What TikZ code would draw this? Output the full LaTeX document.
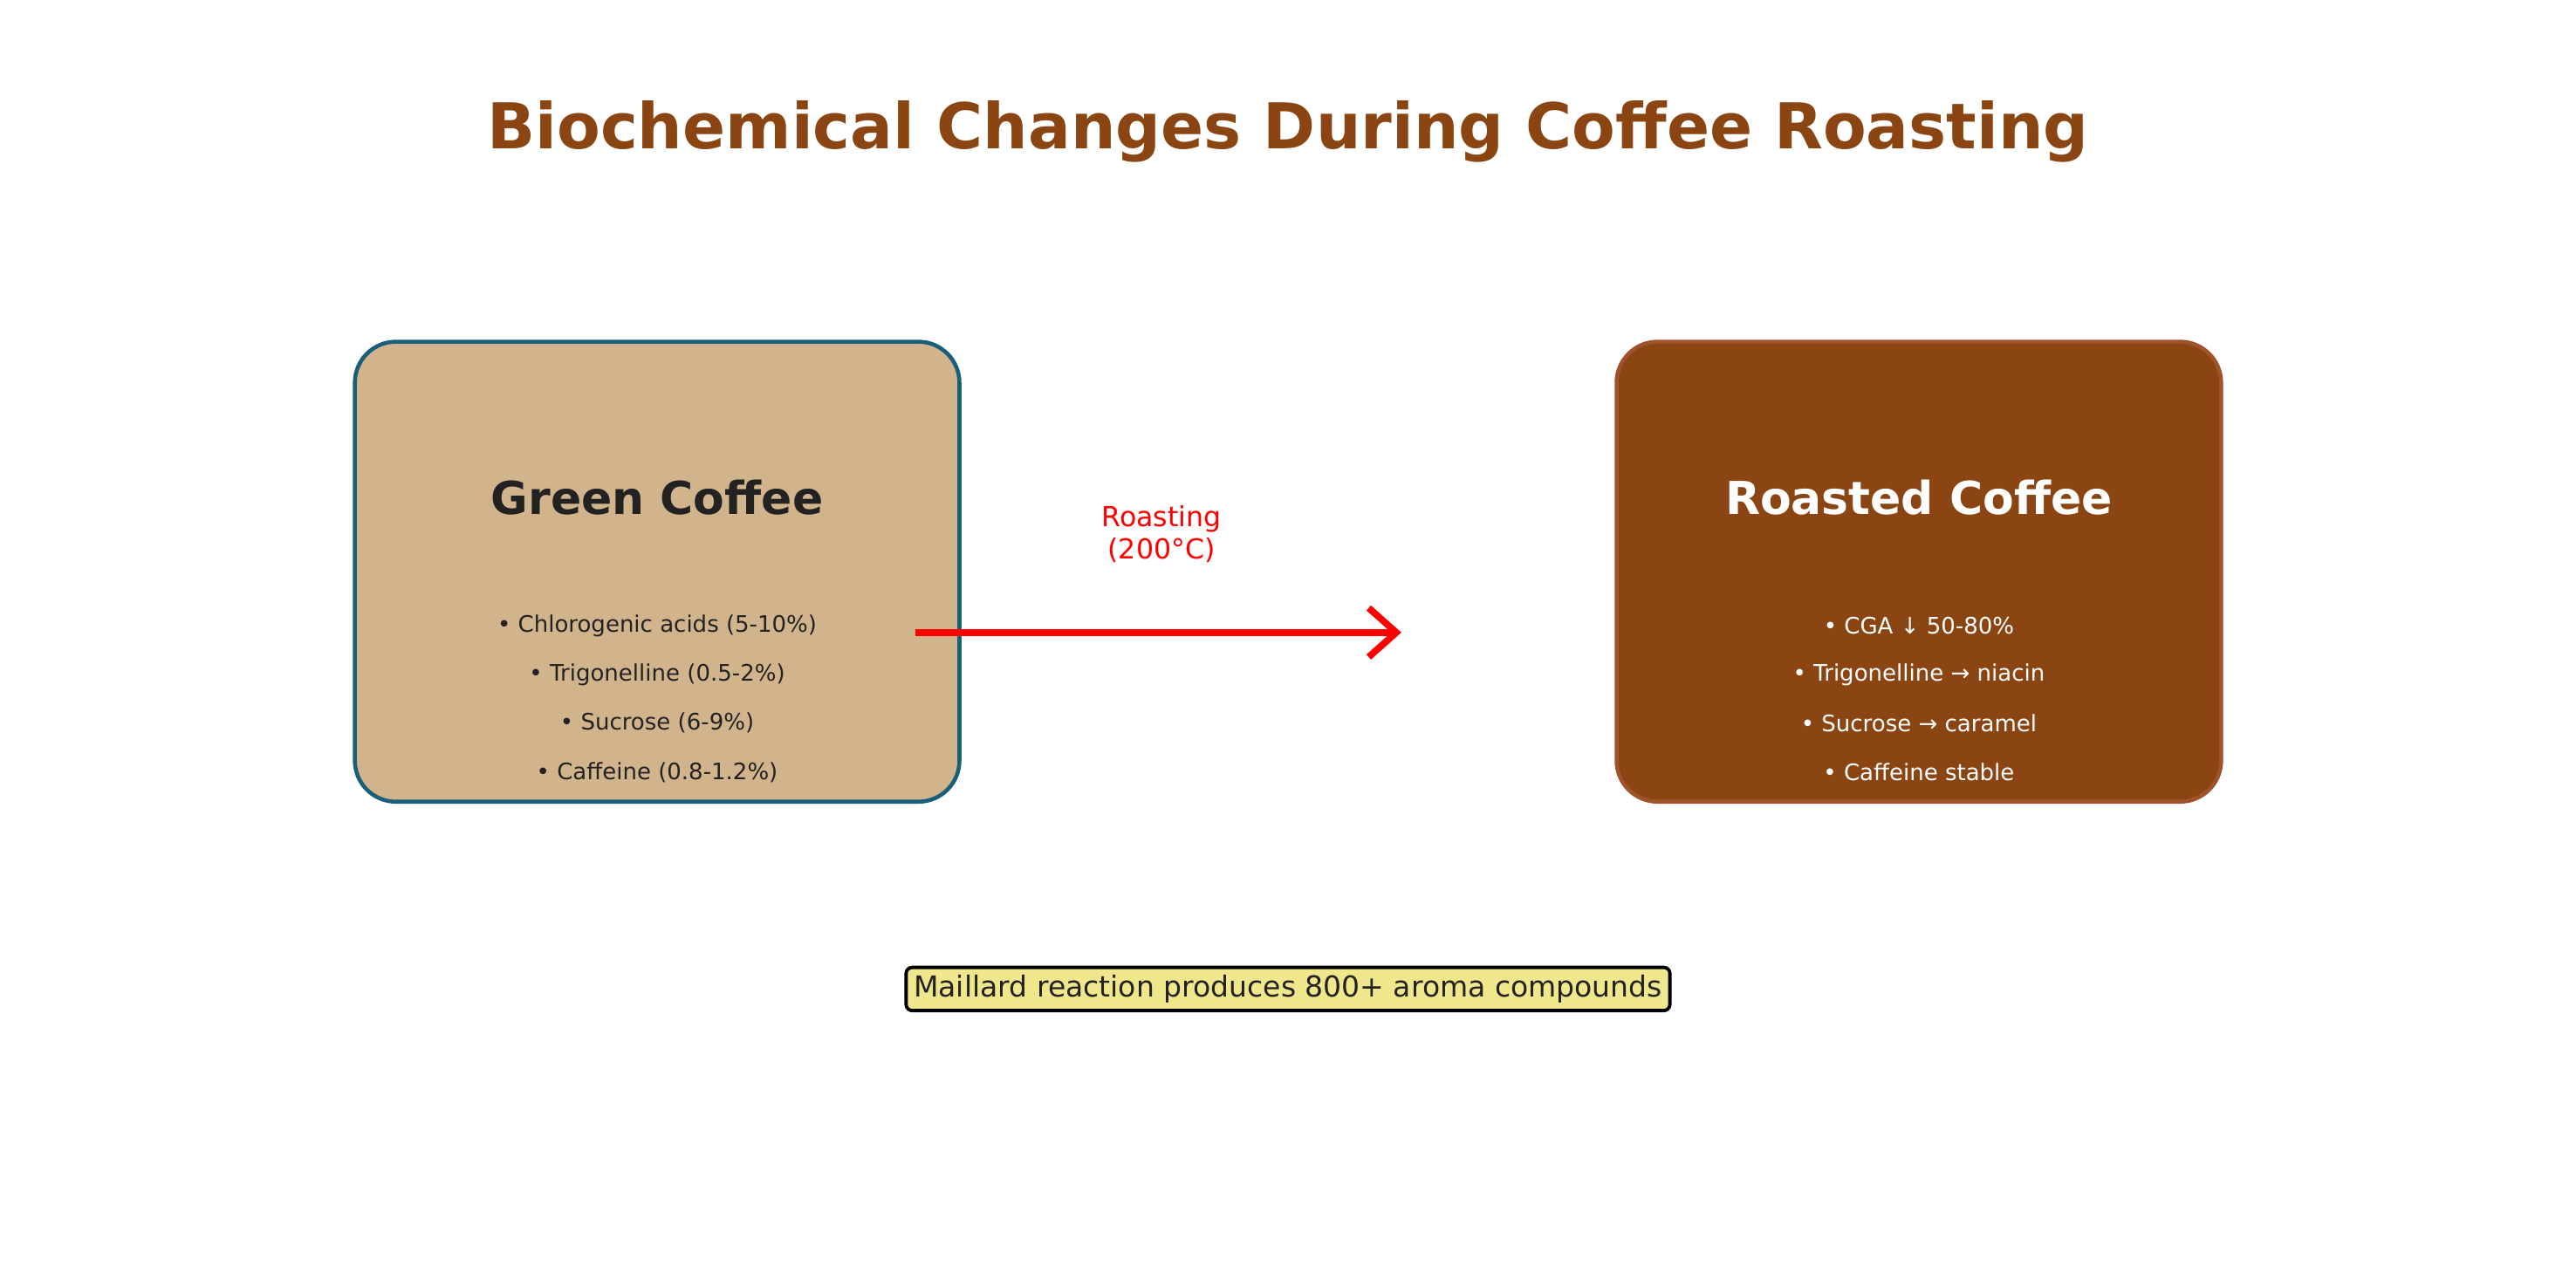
\documentclass[tikz,border=0pt]{standalone}
\usepackage{fontspec}
\setmainfont{DejaVu Sans}
\usepackage{tikz}
\usetikzlibrary{arrows.meta,positioning,calc}
\definecolor{tan}{HTML}{D2B48C}
\definecolor{brownish}{HTML}{8B4513}
\definecolor{sienna}{HTML}{A0522D}
\definecolor{teal}{HTML}{1A5F7A}
\definecolor{khaki}{HTML}{F0E68C}
\definecolor{ink}{HTML}{222222}
\tikzset{
  beanbox/.style={rounded corners=0.47cm, line width=1.3pt},
  boxtitle/.style={font=\fontsize{14.8}{17}\selectfont\bfseries},
  bullet/.style={font=\fontsize{7.4}{9}\selectfont}
}
\begin{document}
\begin{tikzpicture}[x=0.01883cm,y=-0.01883cm,>=Stealth]
\useasboundingbox (0,0) rectangle (1568,771);

% Title
\node[text=brownish, font=\fontsize{20.6}{24}\selectfont\bfseries] (title) at (784,80) {Biochemical Changes During Coffee Roasting};

% Green coffee
\draw[beanbox, draw=teal, fill=tan] (216,208) rectangle (584,488);
\node[boxtitle, text=ink] (green) at (400,303) {Green Coffee};
\node[bullet, text=ink] (g1) at (400,381) {• Chlorogenic acids (5-10\%)};
\node[bullet, text=ink] (g2) at (400,411) {• Trigonelline (0.5-2\%)};
\node[bullet, text=ink] (g3) at (400,440) {• Sucrose (6-9\%)};
\node[bullet, text=ink] (g4) at (400,470) {• Caffeine (0.8-1.2\%)};

% Roasted coffee
\draw[beanbox, draw=sienna, fill=brownish] (984,208) rectangle (1352,488);
\node[boxtitle, text=white] (roasted) at (1168,303) {Roasted Coffee};
\node[bullet, text=white] (r1) at (1168,381) {• CGA ↓ 50-80\%};
\node[bullet, text=white] (r2) at (1168,411) {• Trigonelline → niacin};
\node[bullet, text=white] (r3) at (1168,440) {• Sucrose → caramel};
\node[bullet, text=white] (r4) at (1168,470) {• Caffeine stable};

% Roasting arrow
\coordinate (from) at (557,385);
\coordinate (to) at (853,385);
\draw[red, line width=2.2pt, -{Straight Barb[length=9pt,width=16pt]}] (from) -- (to);
\node[red, align=center, font=\fontsize{9}{10.5}\selectfont] (roast) at (707,325) {Roasting\\(200°C)};

% Maillard note
\node[draw=black, fill=khaki, line width=1.1pt, rounded corners=2pt, inner sep=2.5pt, text=ink, font=\fontsize{9.4}{11}\selectfont] (note) at (784,602) {Maillard reaction produces 800+ aroma compounds};
\end{tikzpicture}
\end{document}
